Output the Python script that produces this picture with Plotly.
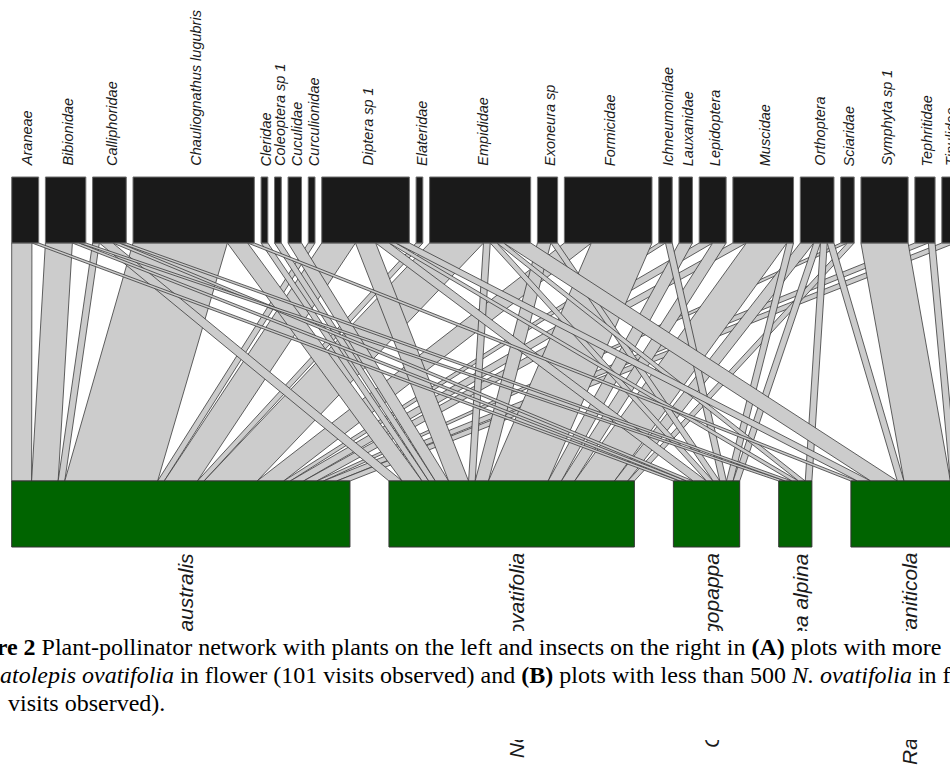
import plotly.graph_objects as go

# ---- species --------------------------------------------------------------
insects = ["Araneae", "Bibionidae", "Calliphoridae", "Chauliognathus lugubris",
           "Cleridae", "Coleoptera sp 1", "Cuculidae", "Curculionidae",
           "Diptera sp 1", "Elateridae", "Empididae", "Exoneura sp",
           "Formicidae", "Ichneumonidae", "Lauxanidae", "Lepidoptera",
           "Muscidae", "Orthoptera", "Sciaridae", "Symphyta sp 1",
           "Tephritidae", "Tipulidae"]
plants = ["Grevillea australis", "Nematolepis ovatifolia", "Olearia phlogopappa",
          "Pimelea alpina", "Ranunculus graniticola"]

# ---- visits per plant, one value per insect (same order as `insects`) ------
#                     Ar Bi Ca Ch Cl Co Cu Cr Di El Em Ex Fo Ic La Le Mu Or Sc Sy Te Ti
visits_grevillea   = [3, 4, 1, 14, 0, 0, 0, 1, 5, 1, 8, 0, 4, 1, 0, 2, 2, 0, 1, 0, 2, 2]
visits_nematolepis = [0, 0, 2, 3, 1, 1, 2, 0, 3, 0, 1, 2, 9, 0, 2, 2, 6, 2, 1, 0, 0, 0]
visits_olearia     = [1, 1, 1, 0, 0, 0, 0, 0, 2, 0, 1, 1, 0, 1, 0, 0, 1, 1, 0, 0, 0, 0]
visits_pimelea     = [0, 1, 1, 0, 0, 0, 0, 0, 1, 0, 1, 0, 0, 0, 0, 0, 0, 1, 0, 0, 0, 0]
visits_ranunculus  = [0, 0, 0, 1, 0, 0, 0, 0, 2, 0, 4, 0, 0, 0, 0, 0, 0, 1, 0, 7, 1, 0]

web = [visits_grevillea, visits_nematolepis, visits_olearia,
       visits_pimelea, visits_ranunculus]

# ---- layout constants (x in "visit" units of the pollinator row) ----------
PX_PER_VISIT = 6.74
X_ORIGIN_PX = 11.7
INSECT_GAP = 1.0          # spacing between pollinator boxes
PLANT_SCALE = 0.984       # plant row is drawn slightly narrower per visit
PLANT_GAP = 5.79          # spacing between plant boxes

Y_INS_TOP, Y_INS_BOT = 177, 243      # pollinator boxes (screen rows)
Y_PL_TOP, Y_PL_BOT = 481, 547        # plant boxes

LINK_FILL = "#cccccc"
LINK_EDGE = "#3a3a3a"
HIGH_FILL = "#1a1a1a"
LOW_FILL = "#006400"
BOX_EDGE = "#6e6e6e"

n_pl, n_in = len(plants), len(insects)
ins_tot = [sum(web[i][j] for i in range(n_pl)) for j in range(n_in)]
pl_tot = [sum(r) for r in web]

ins_left, acc = [], 0.0
for t in ins_tot:
    ins_left.append(acc)
    acc += t + INSECT_GAP
pl_left, acc = [], 0.0
for t in pl_tot:
    pl_left.append(acc)
    acc += t * PLANT_SCALE + PLANT_GAP

fig = go.Figure()

# ---- interaction bands (drawn plant by plant, insects left to right) -------
for i in range(n_pl):
    for j in range(n_in):
        w = web[i][j]
        if w <= 0:
            continue
        tx0 = ins_left[j] + sum(web[k][j] for k in range(i))
        tx1 = tx0 + w
        bx0 = pl_left[i] + PLANT_SCALE * sum(web[i][k] for k in range(j))
        bx1 = bx0 + PLANT_SCALE * w
        fig.add_trace(go.Scatter(
            x=[tx0, tx1, bx1, bx0, tx0],
            y=[Y_INS_BOT, Y_INS_BOT, Y_PL_TOP, Y_PL_TOP, Y_INS_BOT],
            mode="lines", fill="toself", fillcolor=LINK_FILL,
            line=dict(color=LINK_EDGE, width=0.8),
            hoverinfo="skip", showlegend=False))

# ---- boxes -----------------------------------------------------------------
shapes = []
for j in range(n_in):
    shapes.append(dict(type="rect", xref="x", yref="y",
                       x0=ins_left[j], x1=ins_left[j] + ins_tot[j],
                       y0=Y_INS_TOP, y1=Y_INS_BOT,
                       fillcolor=HIGH_FILL, line=dict(color=BOX_EDGE, width=1)))
for i in range(n_pl):
    shapes.append(dict(type="rect", xref="x", yref="y",
                       x0=pl_left[i], x1=pl_left[i] + pl_tot[i] * PLANT_SCALE,
                       y0=Y_PL_TOP, y1=Y_PL_BOT,
                       fillcolor=LOW_FILL, line=dict(color="#333333", width=1)))

# ---- labels ----------------------------------------------------------------
annotations = []
sans = "Liberation Sans, Arial, sans-serif"
for j, name in enumerate(insects):
    annotations.append(dict(
        x=ins_left[j] + ins_tot[j] / 2, y=168, xref="x", yref="y",
        text=f"<i>{name}</i>", textangle=-90, showarrow=False,
        xanchor="center", yanchor="bottom", xshift=2,
        font=dict(family=sans, size=14.5, color="#1a1a1a")))
for i, name in enumerate(plants):
    annotations.append(dict(
        x=pl_left[i] + pl_tot[i] * PLANT_SCALE / 2, y=551, xref="x", yref="y",
        text=f"<i>{name}</i>", textangle=-90, showarrow=False,
        xanchor="center", yanchor="top", xshift=5,
        font=dict(family=sans, size=21, color="#1a1a1a")))

# caption block laid over the figure
W, H = 950, 769
annotations.append(dict(
    x=-10 / W, y=631, xref="paper", yref="y", text="\u00a0",
    showarrow=False, xanchor="left", yanchor="top",
    width=980, height=109, bgcolor="white", borderpad=0, borderwidth=0))

serif = "Liberation Serif, Times New Roman, serif"
caption_lines = [
    (-52.0, 647, "<b>Figure 2</b> Plant-pollinator network with plants on the left and "
                 "insects on the right in <b>(A)</b> plots with more"),
    (-47.5, 675, "<i>Nematolepis ovatifolia</i> in flower (101 visits observed) and "
                 "<b>(B)</b> plots with less than 500 <i>N. ovatifolia</i> in flower"),
    (5.5, 703, "visits observed)."),
]
for xpx, ypx, txt in caption_lines:
    annotations.append(dict(
        x=xpx / W, y=ypx, xref="paper", yref="y", text=txt, showarrow=False,
        xanchor="left", yanchor="middle", align="left",
        font=dict(family=serif, size=24, color="black")))

fig.update_layout(
    width=W, height=H, margin=dict(l=0, r=0, t=0, b=0),
    paper_bgcolor="white", plot_bgcolor="white",
    xaxis=dict(range=[-X_ORIGIN_PX / PX_PER_VISIT, (W - X_ORIGIN_PX) / PX_PER_VISIT],
               visible=False, fixedrange=True),
    yaxis=dict(range=[H, 0], visible=False, fixedrange=True),
    shapes=shapes, annotations=annotations, showlegend=False)

fig.write_html("out.html")
